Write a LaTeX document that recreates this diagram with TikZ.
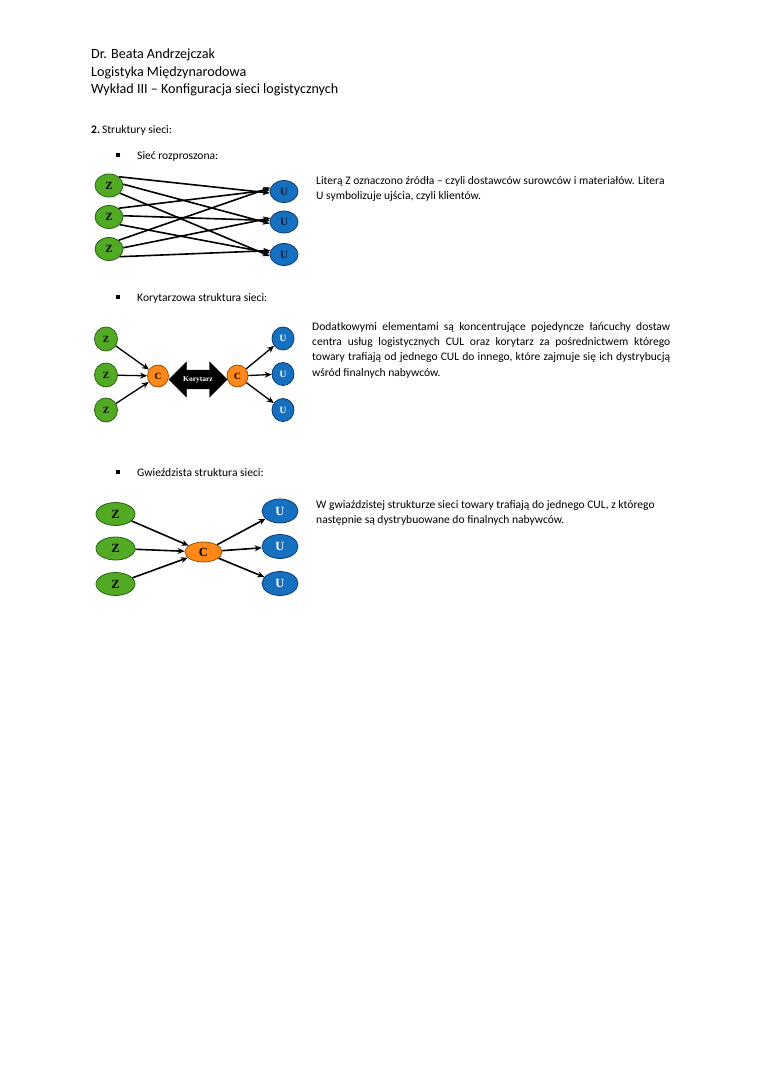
\documentclass[tikz,border=0pt]{standalone}
\usepackage{fontspec}
\setmainfont{Carlito}
\newfontfamily\tnr{Liberation Serif}
\usetikzlibrary{shapes.geometric,shapes.arrows,arrows.meta}
\definecolor{zgreen}{RGB}{82,170,36}
\definecolor{zgreenD}{RGB}{40,100,20}
\definecolor{ublue}{RGB}{22,112,192}
\definecolor{ublueD}{RGB}{15,60,110}
\definecolor{utext}{RGB}{10,30,60}
\definecolor{corange}{RGB}{255,136,24}
\definecolor{corangeD}{RGB}{150,80,10}
\tikzset{
  nodebase/.style={ellipse, inner sep=0pt, line width=0.8pt, font=\tnr\bfseries\fontsize{11}{11}\selectfont},
  zn/.style={nodebase, draw=zgreenD, fill=zgreen, minimum width=28pt, minimum height=23pt},
  un/.style={nodebase, draw=ublueD, fill=ublue, text=utext, minimum width=28pt, minimum height=22pt},
  zs/.style={nodebase, draw=zgreenD, fill=zgreen, minimum width=23pt, minimum height=24pt, font=\tnr\bfseries\fontsize{9.5}{9.5}\selectfont},
  us/.style={nodebase, draw=ublueD, fill=ublue, text=white, minimum width=22pt, minimum height=23pt, font=\tnr\bfseries\fontsize{9.5}{9.5}\selectfont},
  cs/.style={nodebase, draw=corangeD, fill=corange, minimum width=21pt, minimum height=22pt, font=\tnr\bfseries\fontsize{9.5}{9.5}\selectfont},
  zb/.style={nodebase, draw=zgreenD, fill=zgreen, minimum width=39pt, minimum height=23pt, font=\tnr\bfseries\fontsize{12.5}{12.5}\selectfont},
  ub/.style={nodebase, draw=ublueD, fill=ublue, text=white, minimum width=36pt, minimum height=24pt, font=\tnr\bfseries\fontsize{12.5}{12.5}\selectfont},
  cb/.style={nodebase, draw=corangeD, fill=corange, minimum width=37pt, minimum height=20pt, font=\tnr\bfseries\fontsize{12.5}{12.5}\selectfont},
  arr/.style={-{Stealth[length=7pt,width=6pt]}, line width=1.6pt, black},
  hdr/.style={anchor=west, inner sep=0pt, font=\fontsize{14.1}{16}\selectfont},
  body/.style={anchor=north west, inner sep=0pt, align=left, font=\fontsize{11.55}{15.3}\selectfont},
  bul/.style={anchor=west, inner sep=0pt, font=\fontsize{11.55}{14}\selectfont},
  bulmark/.style={rectangle, fill=black, inner sep=0pt, minimum size=3.6pt}
}
\begin{document}
\begin{tikzpicture}[x=1pt,y=-1pt]
\useasboundingbox[fill=white] (0,0) rectangle (760,1075);
% header
\node[hdr] (h1) at (91,55) {Dr. Beata Andrzejczak};
\node[hdr] (h2) at (91,73) {Logistyka Międzynarodowa};
\node[hdr] (h3) at (91,90) {Wykład III – Konfiguracja sieci logistycznych};
\node[bul] (s2) at (91,130) {\textbf{2.}\,Struktury sieci:};
% bullets
\node[bulmark] (b1) at (118,155) {};
\node[bul] (t1) at (137,156) {Sieć rozproszona:};
\node[bulmark] (b2) at (118,297) {};
\node[bul] (t2) at (137,298) {Korytarzowa struktura sieci:};
\node[bulmark] (b3) at (118,472) {};
\node[bul] (t3) at (137,473) {Gwieździsta struktura sieci:};

% diagram 1
\node[zn] (z1) at (109,185.5) {Z};
\node[zn] (z2) at (109,217) {Z};
\node[zn] (z3) at (109,249) {Z};
\node[un] (u1) at (284,191.5) {U};
\node[un] (u2) at (284,222) {U};
\node[un] (u3) at (284,254.5) {U};
\foreach \z/\ea in {z1/186,z2/174,z3/164}{
  \foreach \u/\sa in {u1/42,u2/5,u3/-35}{
    \draw[arr] (\z.\sa) -- (\u.\ea);
  }
}

% diagram 2
\node[zs] (za) at (106,339) {Z};
\node[zs] (zb) at (106,375) {Z};
\node[zs] (zc) at (106,410) {Z};
\node[cs] (c1) at (158,376) {C};
\node[cs] (c2) at (237.5,376) {C};
\node[us] (ua) at (283,338.5) {U};
\node[us] (ub) at (283,374) {U};
\node[us] (uc) at (283,410) {U};
\node[double arrow, fill=black, draw=black, minimum width=35pt, double arrow head extend=3pt,
  minimum height=58pt, inner sep=0pt, text=white, font=\tnr\bfseries\fontsize{7.5}{7.5}\selectfont] (kor) at (198,379.5) {Korytarz};
\foreach \z in {za,zb,zc}{ \draw[arr, line width=1.3pt] (\z) -- (c1); }
\foreach \u in {ua,ub,uc}{ \draw[arr, line width=1.3pt] (c2) -- (\u); }

% diagram 3
\node[zb] (zx) at (115.5,514) {Z};
\node[zb] (zy) at (115.5,548.5) {Z};
\node[zb] (zz) at (115.5,584) {Z};
\node[cb] (cc) at (203.5,552) {C};
\node[ub] (ux) at (280,511) {U};
\node[ub] (uy) at (280,546.5) {U};
\node[ub] (uz) at (280,583.5) {U};
\foreach \z in {zx,zy,zz}{ \draw[arr] (\z) -- (cc); }
\foreach \u in {ux,uy,uz}{ \draw[arr] (cc) -- (\u); }

% texts
\node[body] (p1) at (316,176) {Literą Z oznaczono źródła – czyli dostawców surowców i materiałów. Litera\\U symbolizuje ujścia, czyli klientów.};
\node[body, text width=358pt, align=justify] (p2) at (312,322) {Dodatkowymi elementami są koncentrujące pojedyncze łańcuchy dostaw\linebreak centra usług logistycznych CUL oraz korytarz za pośrednictwem którego\linebreak towary trafiają od jednego CUL do innego, które zajmuje się ich dystrybucją\linebreak wśród finalnych nabywców.};
\node[body] (p3) at (316,500) {W gwiaździstej strukturze sieci towary trafiają do jednego CUL, z którego\\następnie są dystrybuowane do finalnych nabywców.};
\end{tikzpicture}
\end{document}
